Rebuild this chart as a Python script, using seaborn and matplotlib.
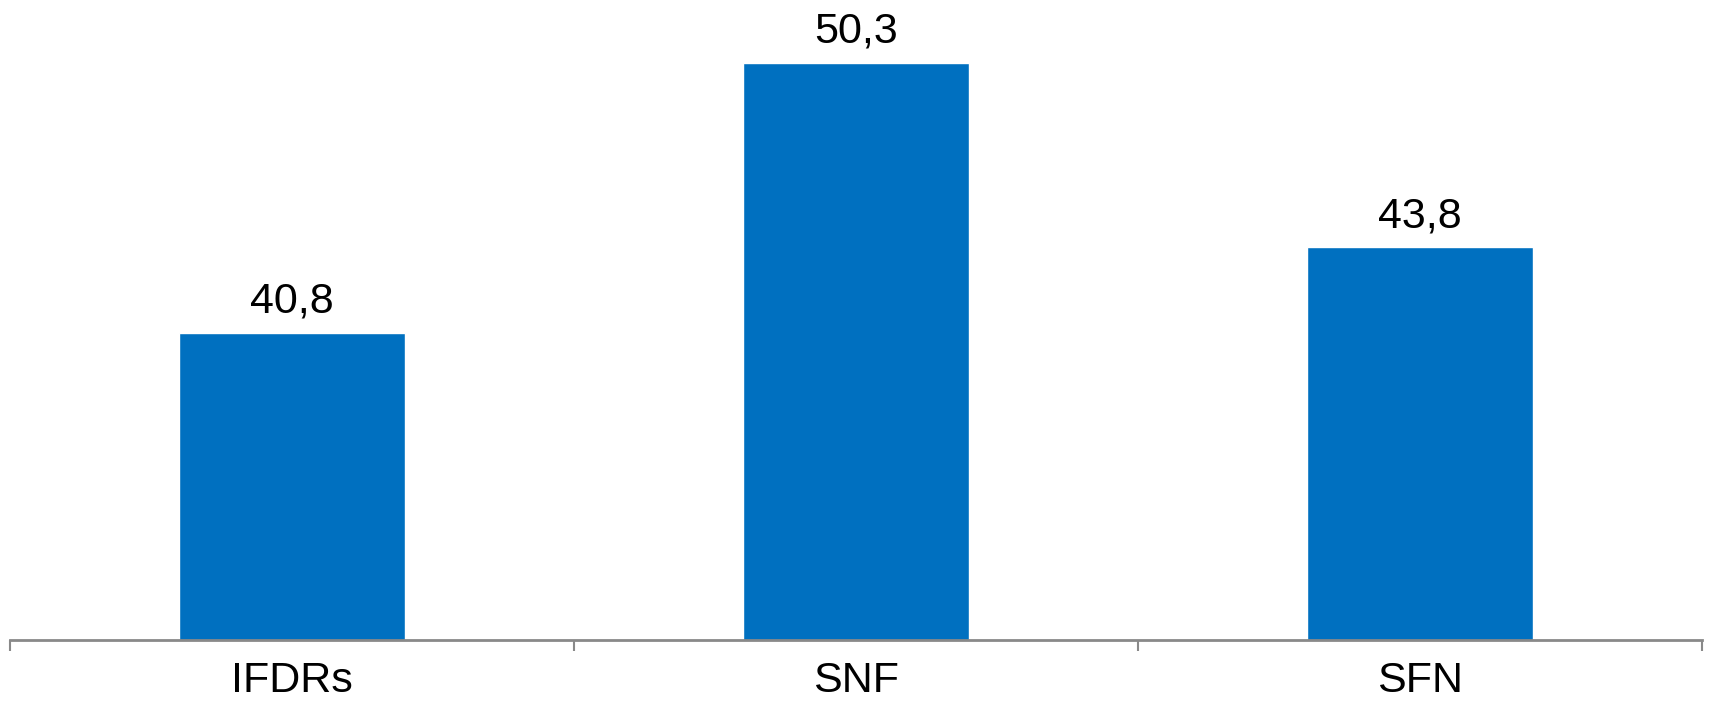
import matplotlib
matplotlib.use("Agg")
import matplotlib.pyplot as plt
import seaborn as sns
import pandas as pd

categories = ["IFDRs", "SNF", "SFN"]
values = [40.8, 50.3, 43.8]
value_labels = ["40,8", "50,3", "43,8"]

sns.set_theme(style="white")
plt.rcParams["font.family"] = ["Liberation Sans", "DejaVu Sans"]

df = pd.DataFrame({"cat": categories, "val": values})

fig = plt.figure(figsize=(17.13, 7.02), dpi=100)
ax = fig.add_axes([10 / 1713, 62 / 702, 1692 / 1713, 640 / 702])

sns.barplot(data=df, x="cat", y="val", color="#0070C0", saturation=1,
            width=0.4, ax=ax)

ax.set_ylim(30, 52.5)
ax.set_xlim(-0.5, 2.5)

ax.bar_label(ax.containers[0], labels=value_labels, padding=8,
             fontsize=31, color="black")

for s in ["top", "right", "left"]:
    ax.spines[s].set_visible(False)
ax.spines["bottom"].set_color("#898989")
ax.spines["bottom"].set_linewidth(2)

ax.set_yticks([])
ax.set_xticks([-0.5, 0.5, 1.5, 2.5], minor=False)
ax.set_xticklabels([])
ax.set_xticks([0, 1, 2], minor=True)
ax.set_xticklabels(categories, minor=True, fontsize=31, color="black")
ax.tick_params(axis="x", which="major", direction="out", length=8,
               width=1.5, color="#898989", bottom=True)
ax.tick_params(axis="x", which="minor", length=0, pad=15)
ax.set_xlabel("")
ax.set_ylabel("")

fig.savefig("out.png", dpi=100)
